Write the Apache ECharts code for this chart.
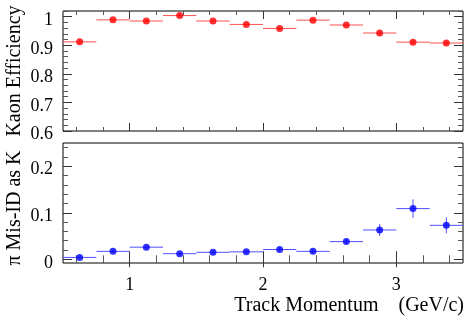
<!DOCTYPE html>
<html>
<head>
<meta charset="utf-8">
<script src="https://cdn.jsdelivr.net/npm/echarts@6/dist/echarts.min.js"></script>
<style>html,body{margin:0;padding:0;background:#fff}#c{width:466px;height:319px}</style>
</head>
<body>
<div id="c"></div>
<script>
// ---- data ----
const binCenters = [0.625, 0.875, 1.125, 1.375, 1.625, 1.875, 2.125, 2.375, 2.625, 2.875, 3.125, 3.375];
const binHalfWidth = 0.125;
const kaonEff = [0.912, 0.989, 0.985, 1.004, 0.985, 0.973, 0.959, 0.988, 0.971, 0.943, 0.911, 0.908];
const kaonErr = [0.005, 0.003, 0.003, 0.003, 0.003, 0.003, 0.004, 0.003, 0.004, 0.005, 0.007, 0.008];
const pionMisId = [0.004, 0.017, 0.026, 0.012, 0.015, 0.016, 0.021, 0.017, 0.038, 0.063, 0.109, 0.073];
const pionErr = [0.002, 0.003, 0.004, 0.003, 0.003, 0.003, 0.004, 0.004, 0.005, 0.013, 0.020, 0.017];

const xMajorTicks = [1, 2, 3];
const xMinorTicks = [0.6, 0.8, 1.2, 1.4, 1.6, 1.8, 2.2, 2.4, 2.6, 2.8, 3.2, 3.4];
const kaonMajorTicks = [0.6, 0.7, 0.8, 0.9, 1];
const kaonMinorTicks = [0.62, 0.64, 0.66, 0.68, 0.72, 0.74, 0.76, 0.78, 0.82, 0.84, 0.86, 0.88, 0.92, 0.94, 0.96, 0.98, 1.02];
const pionMajorTicks = [0, 0.1, 0.2];
const pionMinorTicks = [0.02, 0.04, 0.06, 0.08, 0.12, 0.14, 0.16, 0.18, 0.22, 0.24];

const FONT = 'Liberation Serif';
const chart = echarts.init(document.getElementById('c'), null, {renderer: 'canvas'});

function fmt(v) { return '{t|' + (Math.round(v * 10) / 10).toString() + '}'; }
const richLabel = {t: {fontFamily: FONT, fontSize: 18, color: '#000'}};

function xAxes(grid, showLabels) {
  const base = {type: 'value', gridIndex: grid, min: 0.5, max: 3.5,
    axisLine: {show: false}, splitLine: {show: false}};
  return [
    Object.assign({}, base, {position: 'bottom',
      axisTick: {show: true, inside: true, length: 8, customValues: xMajorTicks, lineStyle: {color: '#333', width: 1}},
      axisLabel: {show: showLabels, customValues: xMajorTicks, margin: 13, fontFamily: FONT, fontSize: 18, color: '#000',
        formatter: fmt, rich: richLabel}}),
    Object.assign({}, base, {position: 'bottom',
      axisTick: {show: true, inside: true, length: 4, customValues: xMinorTicks, lineStyle: {color: '#555', width: 1}},
      axisLabel: {show: false}}),
    Object.assign({}, base, {position: 'top',
      axisTick: {show: true, inside: true, length: 8, customValues: xMajorTicks, lineStyle: {color: '#333', width: 1}},
      axisLabel: {show: false}}),
    Object.assign({}, base, {position: 'top',
      axisTick: {show: true, inside: true, length: 4, customValues: xMinorTicks, lineStyle: {color: '#555', width: 1}},
      axisLabel: {show: false}})
  ];
}
function yAxes(grid, min, max, major, minor, name, namePad) {
  const base = {type: 'value', gridIndex: grid, min: min, max: max,
    axisLine: {show: false}, splitLine: {show: false}};
  return [
    Object.assign({}, base, {position: 'left', name: name, nameLocation: 'middle', nameGap: 38, nameRotate: 90,
      nameMoveOverlap: false,
      nameTextStyle: {fontFamily: FONT, fontSize: 20, color: '#000', padding: namePad},
      axisTick: {show: true, inside: true, length: 9, customValues: major, lineStyle: {color: '#333', width: 1}},
      axisLabel: {show: true, customValues: major, margin: 10, fontFamily: FONT, fontSize: 18, color: '#000',
        padding: [7, 0, 0, 0], formatter: fmt, rich: richLabel}}),
    Object.assign({}, base, {position: 'left',
      axisTick: {show: true, inside: true, length: 5, customValues: minor, lineStyle: {color: '#555', width: 1}},
      axisLabel: {show: false}}),
    Object.assign({}, base, {position: 'right',
      axisTick: {show: true, inside: true, length: 9, customValues: major, lineStyle: {color: '#333', width: 1}},
      axisLabel: {show: false}}),
    Object.assign({}, base, {position: 'right',
      axisTick: {show: true, inside: true, length: 5, customValues: minor, lineStyle: {color: '#555', width: 1}},
      axisLabel: {show: false}})
  ];
}

function errSeries(xi, yi, vals, errs, color) {
  return {
    type: 'custom', xAxisIndex: xi, yAxisIndex: yi, z: 2,
    data: binCenters.map((c, i) => [c, vals[i], errs[i]]),
    renderItem: function (params, api) {
      const x = api.value(0), y = api.value(1), e = api.value(2);
      const l = api.coord([x - binHalfWidth, y]);
      const r = api.coord([x + binHalfWidth, y]);
      const t = api.coord([x, y + e]);
      const b = api.coord([x, y - e]);
      return {type: 'group', children: [
        {type: 'line', shape: {x1: l[0], y1: l[1], x2: r[0], y2: r[1]}, style: {stroke: color, lineWidth: 1}},
        {type: 'line', shape: {x1: t[0], y1: t[1], x2: b[0], y2: b[1]}, style: {stroke: color, lineWidth: 1}}
      ]};
    }
  };
}
function ptSeries(xi, yi, vals, color) {
  return {type: 'scatter', xAxisIndex: xi, yAxisIndex: yi, z: 3, symbol: 'circle', symbolSize: 7,
    itemStyle: {color: color}, data: binCenters.map((c, i) => [c, vals[i]])};
}

chart.setOption({
  animation: false,
  backgroundColor: '#fff',
  textStyle: {fontFamily: FONT, color: '#000'},
  title: {text: 'Track Momentum    (GeV/c)', right: 2, top: 296, padding: 0,
    textStyle: {fontFamily: FONT, fontSize: 20, fontWeight: 'normal', color: '#000'}},
  grid: [
    {left: 63, right: 3, top: 11, height: 120, outerBoundsMode: 'none', containLabel: false, show: true, borderColor: '#000', borderWidth: 1, backgroundColor: 'transparent'},
    {left: 63, right: 3, top: 143, height: 120, outerBoundsMode: 'none', containLabel: false, show: true, borderColor: '#000', borderWidth: 1, backgroundColor: 'transparent'}
  ],
  xAxis: xAxes(0, false).concat(xAxes(1, true)),
  yAxis: yAxes(0, 0.6, 1.02, kaonMajorTicks, kaonMinorTicks, 'Kaon Efficiency', [0, 0, 0, 0])
    .concat(yAxes(1, -0.008, 0.25, pionMajorTicks, pionMinorTicks, 'π Mis-ID as K', [0, 10, 0, 0])),
  series: [
    errSeries(0, 0, kaonEff, kaonErr, '#ff5050'),
    ptSeries(0, 0, kaonEff, '#ff0000'),
    errSeries(4, 4, pionMisId, pionErr, '#5050ff'),
    ptSeries(4, 4, pionMisId, '#0000ff')
  ]
});
</script>
</body>
</html>
